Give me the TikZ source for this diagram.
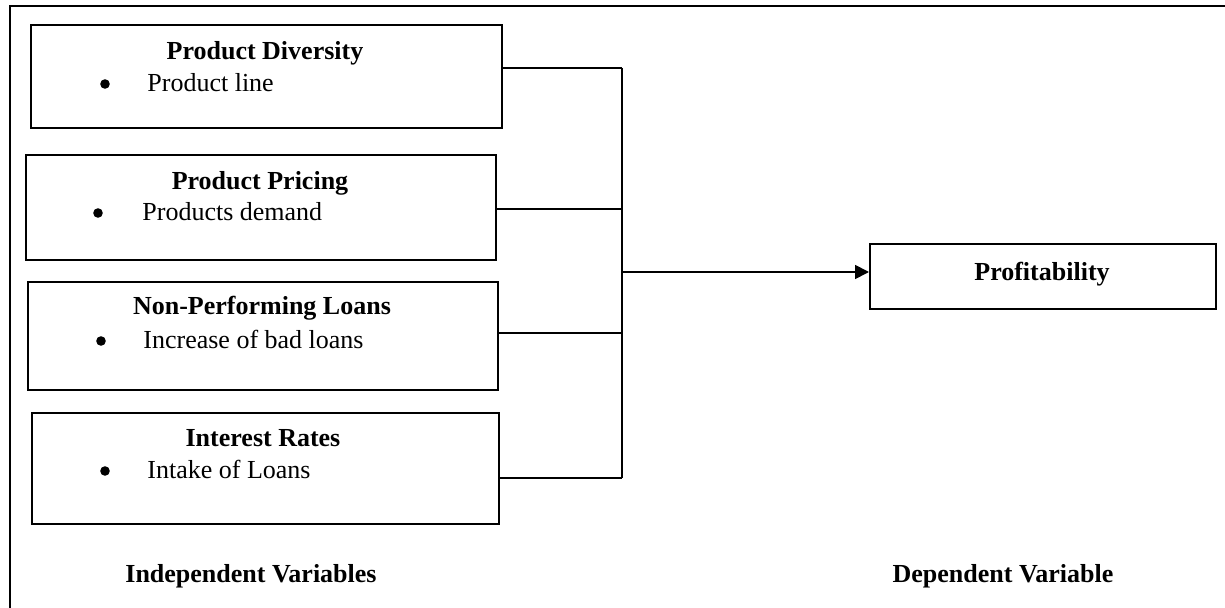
\documentclass[tikz,border=0pt]{standalone}
\usepackage{fontspec}
\setmainfont{Liberation Serif}
\usepackage{tikz}
\usetikzlibrary{arrows.meta}

\tikzset{
  varbox/.style={draw, line width=1pt, anchor=north west, inner sep=0pt},
  vartitle/.style={anchor=base, inner sep=0pt, font=\fontsize{13}{15}\selectfont\bfseries},
  varitem/.style={anchor=base west, inner sep=0pt, font=\fontsize{13}{15}\selectfont},
  varbullet/.style={circle, fill, inner sep=0pt, minimum size=4.8pt},
  link/.style={line width=0.9pt}
}

\begin{document}
\begin{tikzpicture}[x=0.5pt, y=-0.5pt]
    \useasboundingbox (0,0) rectangle (1225,608);

    % Outer frame (top and left sides only)
    \draw[line width=1pt] (10,608) -- (10,6) -- (1225,6);

    % Independent variable boxes
    \node[varbox, minimum width=235.5pt, minimum height=51.5pt] (diversity) at (30,24) {};
    \node[varbox, minimum width=235pt, minimum height=52.5pt] (pricing) at (25,154) {};
    \node[varbox, minimum width=235pt, minimum height=54pt] (npl) at (27,281) {};
    \node[varbox, minimum width=233.5pt, minimum height=55.5pt] (interest) at (31,412) {};

    % Dependent variable box
    \node[varbox, minimum width=173pt, minimum height=32.5pt] (profit) at (869,243) {};

    % Box titles
    \node[vartitle] (diversitytitle) at (265,60) {Product Diversity};
    \node[vartitle] (pricingtitle) at (260,190) {Product Pricing};
    \node[vartitle] (npltitle) at (262,315) {Non-Performing Loans};
    \node[vartitle] (interesttitle) at (263,447) {Interest Rates};
    \node[vartitle] (profittitle) at (1042,281) {Profitability};

    % Bullet items
    \node[varbullet] (diversitydot) at (105,84) {};
    \node[varitem] (diversityitem) at (147,92) {Product line};
    \node[varbullet] (pricingdot) at (98,213) {};
    \node[varitem] (pricingitem) at (142,221) {Products demand};
    \node[varbullet] (npldot) at (101,341) {};
    \node[varitem] (nplitem) at (143,349) {Increase of bad loans};
    \node[varbullet] (interestdot) at (105,471) {};
    \node[varitem] (interestitem) at (147,479) {Intake of Loans};

    % Connectors to the collecting line
    \coordinate (bus) at (622,0);
    \coordinate (j1) at ([yshift=4.25pt]diversity.east);
    \coordinate (j2) at ([yshift=-0.75pt]pricing.east);
    \coordinate (j3) at ([yshift=1.5pt]npl.east);
    \coordinate (j4) at ([yshift=-4.75pt]interest.east);
    \draw[link] (j1) -- (j1 -| bus);
    \draw[link] (j2) -- (j2 -| bus);
    \draw[link] (j3) -- (j3 -| bus);
    \draw[link] (j4) -- (j4 -| bus);
    \draw[link] (j1 -| bus) -- (j4 -| bus);

    % Arrow to the dependent variable
    \coordinate (hub) at ([yshift=2.25pt]profit.west -| bus);
    \draw[link, -{Triangle[length=7pt, width=7pt]}] (hub) -- (hub -| profit.west);

    % Column labels
    \node[vartitle] (indeplabel) at (251,582) {Independent Variables};
    \node[vartitle] (deplabel) at (1003,582) {Dependent Variable};
\end{tikzpicture}
\end{document}
